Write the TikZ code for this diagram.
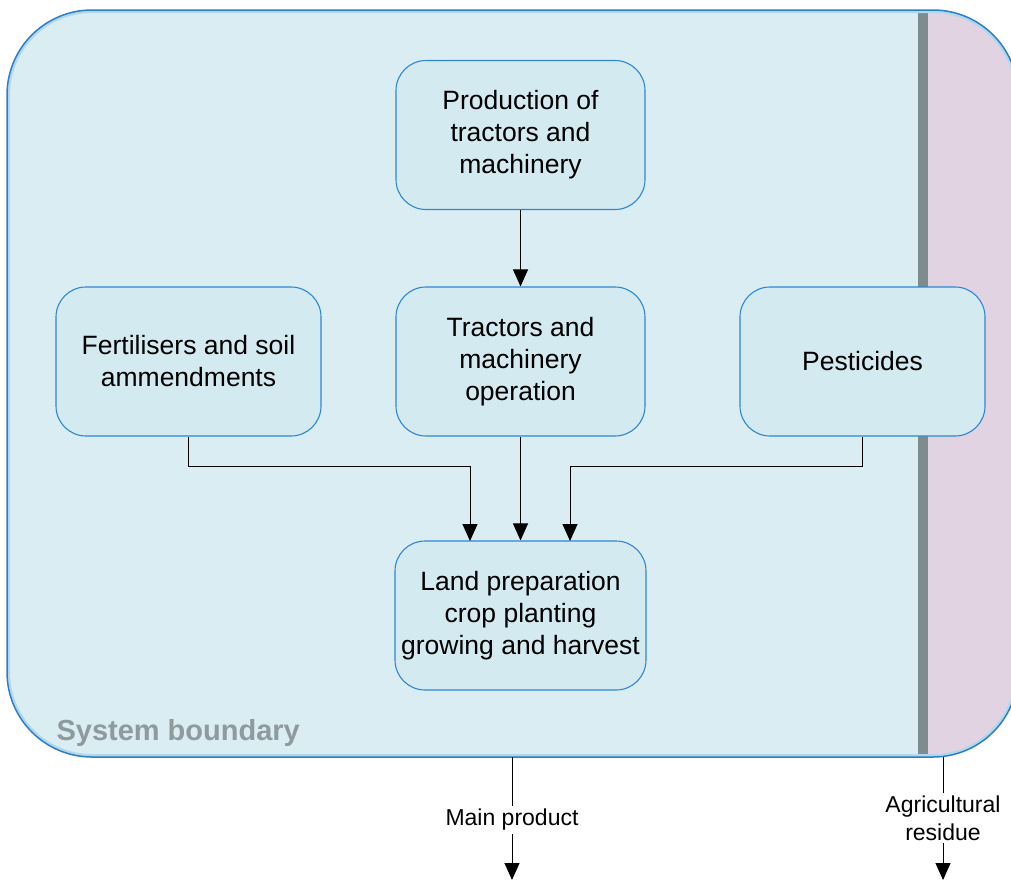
\documentclass[tikz,border=0pt]{standalone}
\usepackage{fontspec}
\setmainfont{Liberation Sans}
\usetikzlibrary{arrows.meta}
\definecolor{bgblue}{HTML}{D9EDF2}
\definecolor{boxfill}{HTML}{D3EAF0}
\definecolor{boxline}{HTML}{2F86D2}
\definecolor{bline}{HTML}{2A7FC8}
\definecolor{bhalo}{HTML}{B3D7EA}
\definecolor{pinkish}{HTML}{E2D3E3}
\definecolor{barg}{HTML}{7F8C8D}
\definecolor{sbgray}{HTML}{8E9A9E}
\tikzset{
  procbox/.style={draw=boxline, fill=boxfill, line width=1.1pt, rounded corners=30pt,
    minimum height=149pt, align=center, inner sep=4pt,
    font=\fontsize{26.5}{32}\selectfont},
  arr/.style={line width=1pt, -{Triangle[width=15pt,length=17pt]}},
  lbl/.style={fill=white, inner sep=3pt, align=center, font=\fontsize{23}{28}\selectfont},
}
\begin{document}
\begin{tikzpicture}[x=1pt,y=-1pt]
\useasboundingbox (0,0) rectangle (1011,879);
% system boundary
\begin{scope}
  \clip[rounded corners=85pt] (7,10) rectangle (1018,757);
  \fill[bgblue] (0,0) rectangle (1030,770);
  \fill[pinkish] (928,0) rectangle (1030,770);
  \fill[barg] (918,0) rectangle (928,770);
  \draw[bhalo, line width=6pt, rounded corners=85pt] (7,10) rectangle (1018,757);
\end{scope}
\draw[bline, line width=1.5pt, rounded corners=85pt] (7,10) rectangle (1018,757);
\node[anchor=west, text=sbgray, font=\fontsize{29}{32}\bfseries\selectfont] (sb) at (53,733) {System boundary};
% process boxes
\node[procbox, minimum width=249pt] (prod) at (520.5,135) {Production of\\tractors and\\machinery};
\node[procbox, minimum width=265pt] (fert) at (188.5,361.5) {Fertilisers and soil\\ammendments};
\node[procbox, minimum width=249pt] (trac) at (520.5,361.5) {Tractors and\\machinery\\operation};
\node[procbox, minimum width=245pt] (pest) at (862.5,361.5) {Pesticides};
\node[procbox, minimum width=251pt] (land) at (520.5,615.5) {Land preparation\\crop planting\\growing and harvest};
% connectors
\coordinate (fa) at (470,541);
\coordinate (pa) at (570,541);
\draw[arr] (prod.south) -- (trac.north);
\draw[arr] (trac.south) -- (land.north);
\draw[arr] (fert.south) -- (fert.south |- 0,466) -| (fa);
\draw[arr] (pest.south) -- (pest.south |- 0,466) -| (pa);
% outputs
\coordinate (m0) at (512,757);
\coordinate (m1) at (512,880);
\coordinate (r0) at (943,757);
\coordinate (r1) at (943,880);
\draw[arr] (m0) -- (m1);
\draw[arr] (r0) -- (r1);
\node[lbl] (mp) at (512,820) {Main product};
\node[lbl] (ar) at (943,818) {Agricultural\\residue};
\end{tikzpicture}
\end{document}
